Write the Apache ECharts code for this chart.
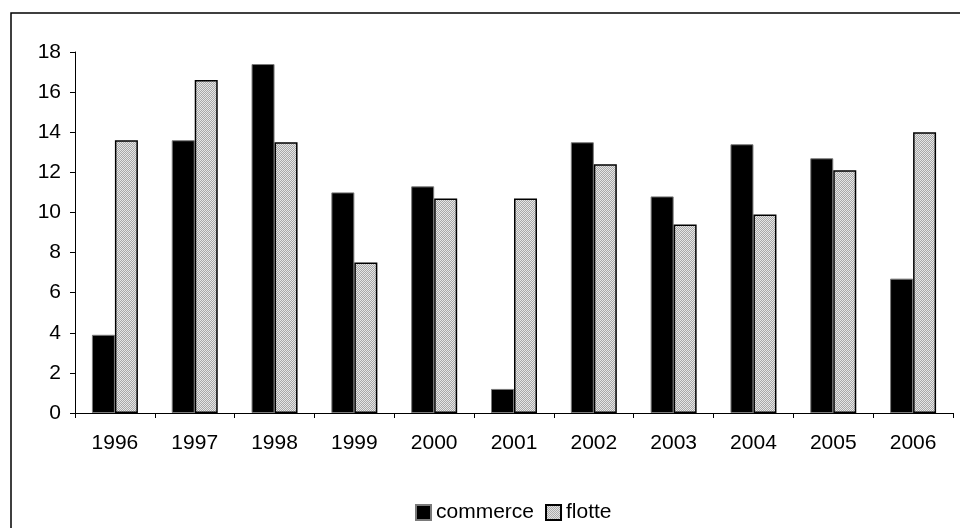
<!DOCTYPE html>
<html>
<head>
<meta charset="utf-8">
<style>
  html, body { margin: 0; padding: 0; background: #fff; }
  #chart { width: 960px; height: 528px; }
</style>
<script src="https://cdn.jsdelivr.net/npm/echarts@6/dist/echarts.min.js"></script>
</head>
<body>
<div id="chart"></div>
<script>
// Yearly values, two series
const years = ['1996', '1997', '1998', '1999', '2000', '2001', '2002', '2003', '2004', '2005', '2006'];
const commerce = [3.9, 13.6, 17.4, 11.0, 11.3, 1.2, 13.5, 10.8, 13.4, 12.7, 6.7];
const flotte = [13.6, 16.6, 13.5, 7.5, 10.7, 10.7, 12.4, 9.4, 9.9, 12.1, 14.0];
const yTicks = { min: 0, max: 18, step: 2 };

// Fine dotted grey fill for the second series
function dotPattern() {
  const c = document.createElement('canvas');
  c.width = 2; c.height = 2;
  const g = c.getContext('2d');
  g.fillStyle = '#e6e6e6'; g.fillRect(0, 0, 2, 2);
  g.fillStyle = '#a8a8a8'; g.fillRect(1, 0, 1, 1); g.fillRect(0, 1, 1, 1);
  return { image: c, repeat: 'repeat' };
}
const dots = dotPattern();

const font = "'Liberation Sans', Arial, sans-serif";
const fontSize = 21;
const chart = echarts.init(document.getElementById('chart'), null, { renderer: 'canvas' });

chart.setOption({
  backgroundColor: '#fff',
  animation: false,
  textStyle: { fontFamily: font, color: '#000' },
  graphic: [{
    type: 'rect',
    shape: { x: 11, y: 13, width: 1000, height: 560 },
    style: { fill: 'none', stroke: '#000', lineWidth: 1.5 },
    silent: true
  }],
  grid: { left: 75, right: 7, top: 52, bottom: 115, containLabel: false },
  legend: {
    data: ['commerce', 'flotte'],
    left: 415,
    top: 502,
    padding: 0,
    icon: 'rect',
    itemWidth: 15,
    itemHeight: 15,
    itemGap: 11,
    textStyle: { fontFamily: font, fontSize: fontSize, color: '#000' }
  },
  xAxis: {
    type: 'category',
    data: years,
    axisLine: { lineStyle: { color: '#000', width: 1 } },
    axisTick: { show: true, length: 5, lineStyle: { color: '#000' } },
    axisLabel: { fontFamily: font, fontSize: fontSize, color: '#000', margin: 20 }
  },
  yAxis: {
    type: 'value',
    min: yTicks.min,
    max: yTicks.max,
    interval: yTicks.step,
    splitLine: { show: false },
    axisLine: { show: true, lineStyle: { color: '#000', width: 1 } },
    axisTick: { show: true, length: 5, lineStyle: { color: '#000' } },
    axisLabel: { fontFamily: font, fontSize: fontSize, color: '#000', margin: 14 }
  },
  series: [
    {
      name: 'commerce',
      type: 'bar',
      data: commerce,
      barWidth: 23,
      barGap: '0%',
      itemStyle: { color: '#000', borderColor: '#7a7a7a', borderWidth: 1 }
    },
    {
      name: 'flotte',
      type: 'bar',
      data: flotte,
      barWidth: 23,
      barGap: '0%',
      itemStyle: { color: dots, borderColor: '#000', borderWidth: 1.5 }
    }
  ]
});
</script>
</body>
</html>
